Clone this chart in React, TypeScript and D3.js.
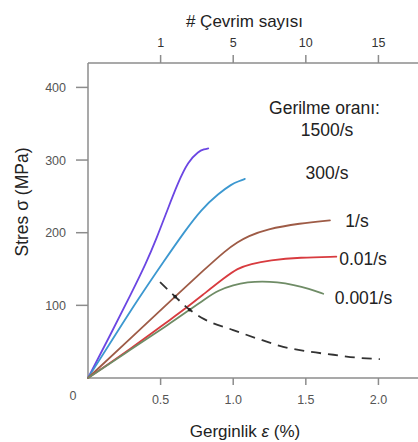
import React from "react";
import * as d3 from "d3";

type Pt = [number, number];

const strain1500: Pt[] = [[0, 0], [0.15, 58], [0.3, 117], [0.4, 158], [0.47, 191], [0.55, 233], [0.62, 269], [0.69, 298], [0.76, 312], [0.8, 315], [0.828, 316]];
const strain300: Pt[] = [[0, 0], [0.2, 63], [0.34, 107], [0.53, 163], [0.67, 203], [0.78, 232], [0.9, 254], [0.99, 267], [1.04, 271], [1.08, 274]];
const strain1: Pt[] = [[0, 0], [0.3, 56], [0.6, 112], [0.8, 149], [0.95, 176], [1.03, 187], [1.1, 195], [1.23, 205], [1.46, 213], [1.666, 217]];
const strain001: Pt[] = [[0, 0], [0.3, 41], [0.55, 78], [0.68, 97], [0.8, 116], [0.94, 138], [1.03, 151], [1.12, 157], [1.25, 162], [1.46, 166], [1.71, 167]];
const strain0001: Pt[] = [[0, 0], [0.3, 40], [0.55, 73], [0.7, 94], [0.8, 108], [0.9, 121], [1.0, 128], [1.1, 132], [1.2, 133], [1.3, 132], [1.42, 128], [1.52, 123], [1.62, 116]];
const fatigueLimit: Pt[] = [[0.496, 132], [0.6, 112], [0.7, 94], [0.8, 81], [1.0, 66], [1.2, 52], [1.344, 43], [1.5, 37], [1.69, 32], [1.85, 28], [2.01, 26]];
const crossMarks: Pt[] = [[0.6, 112], [0.7, 94]];

const seriesNames = ["1500/s", "300/s", "1/s", "0.01/s", "0.001/s"];
const seriesData = [strain1500, strain300, strain1, strain001, strain0001];
const seriesColors = ["#6b46e3", "#3c98d0", "#9e5b46", "#d83b3f", "#6f8c66"];

const xTicks = [0.5, 1.0, 1.5, 2.0];
const yTicks = [100, 200, 300, 400];
const cycleTicks = [1, 5, 10, 15];
const cycleStrain = [0.5, 1.0, 1.5, 2.0];

const W = 418;
const H = 442;
const FONT = "'Liberation Sans', Arial, Helvetica, sans-serif";

export default function App() {
  const x = d3.scaleLinear().domain([0, 2.3]).range([88, 422]);
  const y = d3.scaleLinear().domain([0, 400]).range([378, 87.4]);
  const cyc = d3.scaleLinear().domain(cycleTicks).range(cycleStrain.map((s) => x(s)));
  const line = d3
    .line<Pt>()
    .x((d) => x(d[0]))
    .y((d) => y(d[1]))
    .curve(d3.curveBasis);
  const dashLine = d3
    .line<Pt>()
    .x((d) => x(d[0]))
    .y((d) => y(d[1]))
    .curve(d3.curveMonotoneX);

  const axisColor = "#8c8c8c";
  const tickText = "#555";

  return (
    <svg width={W} height={H} style={{ position: "absolute", left: 0, top: 0, background: "#fff" }} fontFamily={FONT}>
      <rect x={0} y={0} width={W} height={H} fill="#fff" />
      <line x1={88} x2={422} y1={y(0)} y2={y(0)} stroke={axisColor} strokeWidth={1.5} />
      <line x1={88} x2={422} y1={63} y2={63} stroke={axisColor} strokeWidth={1.5} />
      <line x1={88} x2={88} y1={63} y2={y(0)} stroke={axisColor} strokeWidth={1.5} />

      {xTicks.map((t) => (
        <g key={"x" + t}>
          <line x1={x(t)} x2={x(t)} y1={y(0)} y2={y(0) + 7} stroke={axisColor} strokeWidth={1.5} />
          <text x={x(t)} y={404} textAnchor="middle" fontSize={12.5} fill={tickText}>
            {t.toFixed(1)}
          </text>
        </g>
      ))}
      <text x={73} y={400} textAnchor="middle" fontSize={12.5} fill={tickText}>0</text>

      {yTicks.map((t) => (
        <g key={"y" + t}>
          <line x1={76} x2={88} y1={y(t)} y2={y(t)} stroke={axisColor} strokeWidth={1.5} />
          <text x={66} y={y(t) + 4.5} textAnchor="end" fontSize={12.5} fill={tickText}>
            {t}
          </text>
        </g>
      ))}

      {cycleTicks.map((t) => (
        <g key={"c" + t}>
          <line x1={cyc(t)} x2={cyc(t)} y1={55} y2={63} stroke={axisColor} strokeWidth={1.5} />
          <text x={cyc(t)} y={47} textAnchor="middle" fontSize={12.5} fill="#333">
            {t}
          </text>
        </g>
      ))}

      <text x={244.5} y={27} textAnchor="middle" fontSize={17} fill="#222"># Çevrim sayısı</text>
      <text x={245} y={437} textAnchor="middle" fontSize={17} fill="#222">
        Gerginlik <tspan fontStyle="italic">ε</tspan> (%)
      </text>
      <text transform="translate(28,202) rotate(-90)" textAnchor="middle" fontSize={17.5} fill="#222">
        Stres σ (MPa)
      </text>

      {seriesData.map((d, i) => (
        <path key={seriesNames[i]} d={line(d) || ""} fill="none" stroke={seriesColors[i]} strokeWidth={1.8} strokeLinecap="round" />
      ))}
      <path d={dashLine(fatigueLimit) || ""} fill="none" stroke="#333" strokeWidth={1.8} strokeDasharray="10,7" />
      {crossMarks.map((p, i) => (
        <circle key={"m" + i} cx={x(p[0])} cy={y(p[1])} r={1.8} fill="#222" />
      ))}

      <text x={324.5} y={114} textAnchor="middle" fontSize={17.5} fill="#222">Gerilme oranı:</text>
      <text x={327} y={136} textAnchor="middle" fontSize={17.5} fill="#222">{seriesNames[0]}</text>
      <text x={327} y={179} textAnchor="middle" fontSize={17.5} fill="#222">{seriesNames[1]}</text>
      <text x={357} y={226.5} textAnchor="middle" fontSize={17.5} fill="#222">{seriesNames[2]}</text>
      <text x={363} y={265} textAnchor="middle" fontSize={17.5} fill="#222">{seriesNames[3]}</text>
      <text x={363.5} y={304} textAnchor="middle" fontSize={17.5} fill="#222">{seriesNames[4]}</text>
    </svg>
  );
}
